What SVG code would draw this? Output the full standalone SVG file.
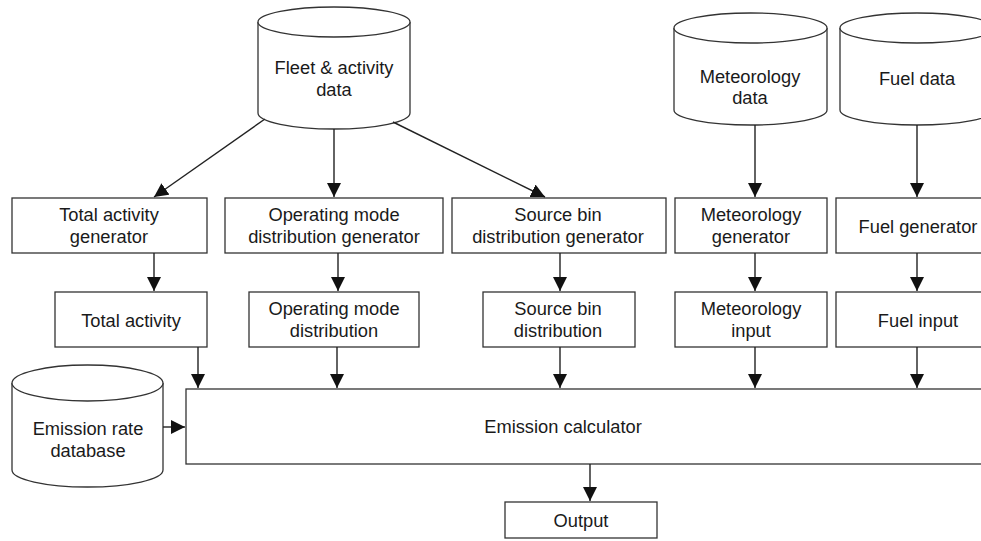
<svg xmlns="http://www.w3.org/2000/svg" width="981" height="541" viewBox="0 0 981 541">
<defs>
<marker id="ah" viewBox="0 0 14 14" refX="14" refY="7" markerWidth="14" markerHeight="14" markerUnits="userSpaceOnUse" orient="auto">
<path d="M0,0 L14,7 L0,14 Z" fill="#111"/>
</marker>
</defs>
<style>
.box{fill:#fff;stroke:#333;stroke-width:1.3}
.cyl{fill:#fff;stroke:#333;stroke-width:1.3}
.t{font-family:"Liberation Sans",Arial,sans-serif;font-size:18.3px;fill:#1a1a1a;text-anchor:middle}
.c{fill:none;stroke:#222;stroke-width:1.4;marker-end:url(#ah)}
</style>
<rect width="981" height="541" fill="#fff"/>

<g id="fleet">
<path class="cyl" d="M258,22 L258,113 A76,16 0 0 0 410,113 L410,22"/>
<ellipse class="cyl" cx="334" cy="22" rx="76" ry="15"/>
<text class="t" x="334" y="74">Fleet &amp; activity</text>
<text class="t" x="334" y="96">data</text>
</g>

<g id="meteo-data">
<path class="cyl" d="M674,28 L674,110 A76.5,15 0 0 0 827,110 L827,28"/>
<ellipse class="cyl" cx="750.5" cy="28" rx="76.5" ry="15"/>
<text class="t" x="750" y="83">Meteorology</text>
<text class="t" x="750" y="104">data</text>
</g>

<g id="fuel-data">
<path class="cyl" d="M840,28 L840,110 A77,15 0 0 0 994,110 L994,28"/>
<ellipse class="cyl" cx="917" cy="28" rx="77" ry="15"/>
<text class="t" x="917" y="85">Fuel data</text>
</g>

<g id="total-activity-gen">
<rect class="box" x="12" y="198" width="195" height="55"/>
<text class="t" x="109" y="221">Total activity</text>
<text class="t" x="109" y="243">generator</text>
</g>

<g id="opmode-gen">
<rect class="box" x="225" y="198" width="218" height="55"/>
<text class="t" x="334" y="221">Operating mode</text>
<text class="t" x="334" y="243">distribution generator</text>
</g>

<g id="sourcebin-gen">
<rect class="box" x="452" y="198" width="214" height="55"/>
<text class="t" x="558" y="221">Source bin</text>
<text class="t" x="558" y="243">distribution generator</text>
</g>

<g id="meteo-gen">
<rect class="box" x="675" y="198" width="152" height="55"/>
<text class="t" x="751" y="221">Meteorology</text>
<text class="t" x="751" y="243">generator</text>
</g>

<g id="fuel-gen">
<rect class="box" x="836" y="198" width="162" height="55"/>
<text class="t" x="918" y="233">Fuel generator</text>
</g>

<g id="total-activity">
<rect class="box" x="55" y="292" width="152" height="55"/>
<text class="t" x="131" y="327">Total activity</text>
</g>

<g id="opmode-dist">
<rect class="box" x="249" y="292" width="170" height="55"/>
<text class="t" x="334" y="315">Operating mode</text>
<text class="t" x="334" y="337">distribution</text>
</g>

<g id="sourcebin-dist">
<rect class="box" x="483" y="292" width="152" height="55"/>
<text class="t" x="558" y="315">Source bin</text>
<text class="t" x="558" y="337">distribution</text>
</g>

<g id="meteo-input">
<rect class="box" x="675" y="292" width="152" height="55"/>
<text class="t" x="751" y="315">Meteorology</text>
<text class="t" x="751" y="337">input</text>
</g>

<g id="fuel-input">
<rect class="box" x="836" y="292" width="162" height="55"/>
<text class="t" x="918" y="327">Fuel input</text>
</g>

<g id="emission-db">
<path class="cyl" d="M12,383 L12,470 A75.5,17 0 0 0 163,470 L163,383"/>
<ellipse class="cyl" cx="87.5" cy="383" rx="75.5" ry="18"/>
<text class="t" x="88" y="435">Emission rate</text>
<text class="t" x="88" y="457">database</text>
</g>

<g id="emission-calc">
<rect class="box" x="186" y="389" width="810" height="75"/>
<text class="t" x="563" y="433">Emission calculator</text>
</g>

<g id="output">
<rect class="box" x="505" y="502" width="152" height="36"/>
<text class="t" x="581" y="527">Output</text>
</g>

<g id="connectors">
<line class="c" x1="265" y1="119" x2="154" y2="197"/>
<line class="c" x1="334" y1="129" x2="334" y2="197"/>
<line class="c" x1="393" y1="122" x2="545" y2="197"/>
<line class="c" x1="755" y1="125" x2="755" y2="197"/>
<line class="c" x1="917" y1="125" x2="917" y2="197"/>

<line class="c" x1="154" y1="253" x2="154" y2="291"/>
<line class="c" x1="338" y1="253" x2="338" y2="291"/>
<line class="c" x1="560" y1="253" x2="560" y2="291"/>
<line class="c" x1="755" y1="253" x2="755" y2="291"/>
<line class="c" x1="917" y1="253" x2="917" y2="291"/>

<line class="c" x1="198" y1="347" x2="198" y2="388"/>
<line class="c" x1="337" y1="347" x2="337" y2="388"/>
<line class="c" x1="560" y1="347" x2="560" y2="388"/>
<line class="c" x1="755" y1="347" x2="755" y2="388"/>
<line class="c" x1="917" y1="347" x2="917" y2="388"/>

<line class="c" x1="163" y1="427" x2="185" y2="427"/>
<line class="c" x1="590" y1="464" x2="590" y2="501"/>
</g>
</svg>
